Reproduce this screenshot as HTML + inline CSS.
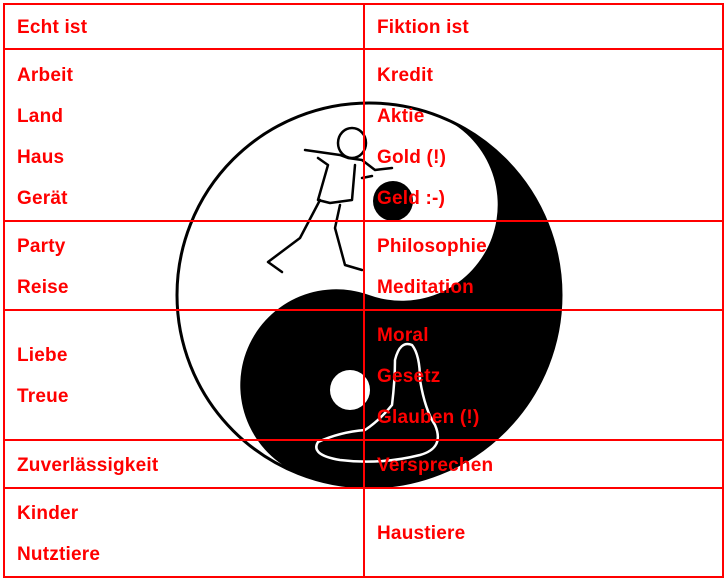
<!DOCTYPE html>
<html><head><meta charset="utf-8"><style>
html,body{margin:0;padding:0;background:#fff;}
#c{position:relative;width:727px;height:580px;overflow:hidden;}
svg{position:absolute;left:0;top:0;}
.t{position:absolute;font:bold 19px "Liberation Sans",sans-serif;letter-spacing:0.2px;color:#ff0000;line-height:20px;white-space:nowrap;}
</style></head><body><div id="c">
<svg width="727" height="580" viewBox="0 0 727 580">
<circle cx="369" cy="295" r="192" fill="#fff"/>
<path d="M434.67,114.58 A192,192 0 0 1 303.33,475.42 A96,96 0 0 1 369,295 A96,96 0 0 0 434.67,114.58 Z" fill="#000"/>
<circle cx="369" cy="295" r="192" fill="none" stroke="#000" stroke-width="3"/>
<circle cx="393" cy="201" r="20" fill="#000"/>
<circle cx="350" cy="390" r="20" fill="#fff"/>
<g fill="none" stroke="#000" stroke-width="2.5" stroke-linejoin="round" stroke-linecap="round">
<ellipse cx="352" cy="143" rx="14" ry="15"/>
<path d="M305,150 L340,155 L348,158 L362,160 L375,170 L392,168 M318,158 L328,165 L318,200 L330,203 L352,200 L355,165 M320,200 L300,238 L268,262 L282,272 M340,205 L335,228 L345,265 L362,270 M362,178 L372,176"/>
</g>
<g fill="none" stroke="#fff" stroke-width="2.5" stroke-linejoin="round">
<path d="M395,360 Q400,340 412,345 Q420,355 420,380 Q425,410 435,425 Q445,448 420,455 Q380,465 340,460 Q310,455 318,442 Q340,432 365,430 Q380,420 392,405 Q395,380 395,360 Z"/>
</g>
<g stroke="#ff0000" stroke-width="2" fill="none">
<rect x="4" y="4" width="719" height="573"/>
<line x1="364" y1="4" x2="364" y2="577"/>
<line x1="4" y1="49" x2="723" y2="49"/>
<line x1="4" y1="221" x2="723" y2="221"/>
<line x1="4" y1="310" x2="723" y2="310"/>
<line x1="4" y1="440" x2="723" y2="440"/>
<line x1="4" y1="488" x2="723" y2="488"/>
</g>
</svg>
<div class="t" style="left:17px;top:18px">Echt ist</div>
<div class="t" style="left:377px;top:18px">Fiktion ist</div>
<div class="t" style="left:17px;top:66px">Arbeit</div>
<div class="t" style="left:17px;top:107px">Land</div>
<div class="t" style="left:17px;top:148px">Haus</div>
<div class="t" style="left:17px;top:189px">Gerät</div>
<div class="t" style="left:377px;top:66px">Kredit</div>
<div class="t" style="left:377px;top:107px">Aktie</div>
<div class="t" style="left:377px;top:148px">Gold (!)</div>
<div class="t" style="left:377px;top:189px">Geld :-)</div>
<div class="t" style="left:17px;top:237px">Party</div>
<div class="t" style="left:17px;top:278px">Reise</div>
<div class="t" style="left:377px;top:237px">Philosophie</div>
<div class="t" style="left:377px;top:278px">Meditation</div>
<div class="t" style="left:17px;top:346px">Liebe</div>
<div class="t" style="left:17px;top:387px">Treue</div>
<div class="t" style="left:377px;top:326px">Moral</div>
<div class="t" style="left:377px;top:367px">Gesetz</div>
<div class="t" style="left:377px;top:408px">Glauben (!)</div>
<div class="t" style="left:17px;top:456px">Zuverlässigkeit</div>
<div class="t" style="left:377px;top:456px">Versprechen</div>
<div class="t" style="left:17px;top:504px">Kinder</div>
<div class="t" style="left:17px;top:545px">Nutztiere</div>
<div class="t" style="left:377px;top:524px">Haustiere</div>
</div></body></html>
